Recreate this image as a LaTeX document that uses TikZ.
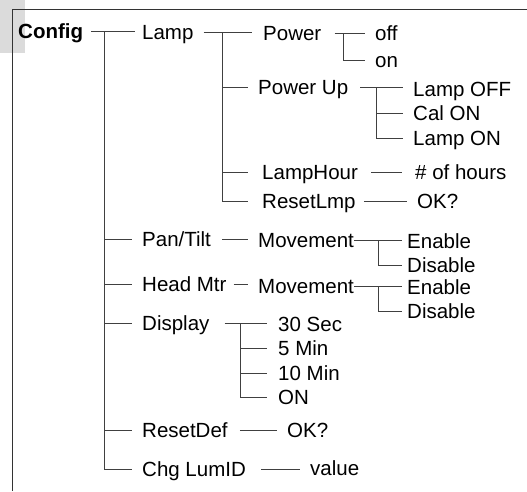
\documentclass[tikz,border=0pt]{standalone}
\usepackage{fontspec}
\setmainfont{Liberation Sans}
\usetikzlibrary{calc}
\begin{document}
\begin{tikzpicture}[x=1pt,y=-1pt,
  t/.style={anchor=base west, inner sep=0pt, text height=16pt, text depth=2pt,
            font=\fontsize{20.5}{22}\selectfont},
  ln/.style={draw=black!75, line width=0.8pt},
  frame/.style={draw=black!80, line width=0.9pt}]
\useasboundingbox (0,0) rectangle (527,491);
\fill[black!14] (0,0) rectangle (25,53);
\draw[frame] (12.5,491) -- (12.5,9) -- (527,9);

% nodes
\node[t,font=\fontsize{20.5}{22}\selectfont\bfseries] (config) at (18,38) {Config};
\node[t] (lamp) at (142,39) {Lamp};
\node[t] (power) at (263,40) {Power};
\node[t] (off) at (375,40) {off};
\node[t] (on) at (375,67) {on};
\node[t] (powerup) at (258,94) {Power Up};
\node[t] (lampoff) at (413,96) {Lamp OFF};
\node[t] (calon) at (413,120) {Cal ON};
\node[t] (lampon) at (413,145) {Lamp ON};
\node[t] (lamphour) at (262,179) {LampHour};
\node[t] (hours) at (415,179) {\# of hours};
\node[t] (resetlmp) at (262,208) {ResetLmp};
\node[t] (ok1) at (417,208) {OK?};
\node[t] (pantilt) at (142,246) {Pan/Tilt};
\node[t] (mov1) at (258,247) {Movement};
\node[t] (en1) at (407,248) {Enable};
\node[t] (dis1) at (407,272) {Disable};
\node[t] (headmtr) at (142,291) {Head Mtr};
\node[t] (mov2) at (258,293) {Movement};
\node[t] (en2) at (407,294) {Enable};
\node[t] (dis2) at (407,318) {Disable};
\node[t] (display) at (142,330) {Display};
\node[t] (s30) at (278,331) {30 Sec};
\node[t] (m5) at (278,355) {5 Min};
\node[t] (m10) at (278,380) {10 Min};
\node[t] (onD) at (278,404) {ON};
\node[t] (resetdef) at (142,437) {ResetDef};
\node[t] (ok2) at (287,437) {OK?};
\node[t] (chglum) at (142,476) {Chg LumID};
\node[t] (value) at (310,475) {value};

% bus positions
\coordinate (b1) at (104,0);
\coordinate (b2) at (222,0);
\coordinate (b3) at (343,0);
\coordinate (b4) at (376,0);
\coordinate (b5) at (378,0);
\coordinate (b6) at (240,0);

% Config level
\draw[ln] ([xshift=8pt]config.east) -- ([xshift=-7pt]config.east -| lamp.west);
\draw[ln] (b1 |- config.east) |- ([xshift=-10pt]chglum.west);
\foreach \n in {pantilt,headmtr,display,resetdef}
  \draw[ln] (b1 |- \n.west) -- ([xshift=-10pt]\n.west);

% Lamp
\draw[ln] ([xshift=10pt]lamp.east) -- ([xshift=-11pt]lamp.east -| power.west);
\draw[ln] (b2 |- lamp.east) |- ([xshift=-14pt]resetlmp.west);
\draw[ln] (b2 |- powerup.west) -- ([xshift=-10pt]powerup.west);
\draw[ln] (b2 |- lamphour.west) -- ([xshift=-14pt]lamphour.west);

% Power
\draw[ln] ([xshift=13pt]power.east) -- ([xshift=-10pt]power.east -| off.west);
\draw[ln] (b3 |- power.east) |- ([xshift=-10pt]on.west);

% Power Up
\draw[ln] ([xshift=12pt]powerup.east) -- ([xshift=-10pt]powerup.east -| lampoff.west);
\draw[ln] (b4 |- powerup.east) |- ([xshift=-10pt]lampon.west);
\draw[ln] (b4 |- calon.west) -- ([xshift=-10pt]calon.west);

% LampHour, ResetLmp
\draw[ln] ([xshift=13pt]lamphour.east) -- ([xshift=-13pt]lamphour.east -| hours.west);
\draw[ln] ([xshift=8pt]resetlmp.east) -- ([xshift=-10pt]resetlmp.east -| ok1.west);

% Pan/Tilt
\draw[ln] ([xshift=11pt]pantilt.east) -- ([xshift=-10pt]pantilt.east -| mov1.west);
\draw[ln] (mov1.east) -- ([xshift=-5pt]mov1.east -| en1.west);
\draw[ln] (b5 |- mov1.east) |- ([xshift=-5pt]dis1.west);

% Head Mtr
\draw[ln] ([xshift=7pt]headmtr.east) -- ([xshift=-10pt]headmtr.east -| mov2.west);
\draw[ln] (mov2.east) -- ([xshift=-5pt]mov2.east -| en2.west);
\draw[ln] (b5 |- mov2.east) |- ([xshift=-5pt]dis2.west);

% Display
\draw[ln] ([xshift=15pt]display.east) -- ([xshift=-11pt]display.east -| s30.west);
\draw[ln] (b6 |- display.east) |- ([xshift=-11pt]onD.west);
\foreach \n in {m5,m10}
  \draw[ln] (b6 |- \n.west) -- ([xshift=-11pt]\n.west);

% ResetDef, Chg LumID
\draw[ln] ([xshift=12pt]resetdef.east) -- ([xshift=-10pt]resetdef.east -| ok2.west);
\draw[ln] ([xshift=15pt]chglum.east) -- ([xshift=-10pt]chglum.east -| value.west);
\end{tikzpicture}
\end{document}
